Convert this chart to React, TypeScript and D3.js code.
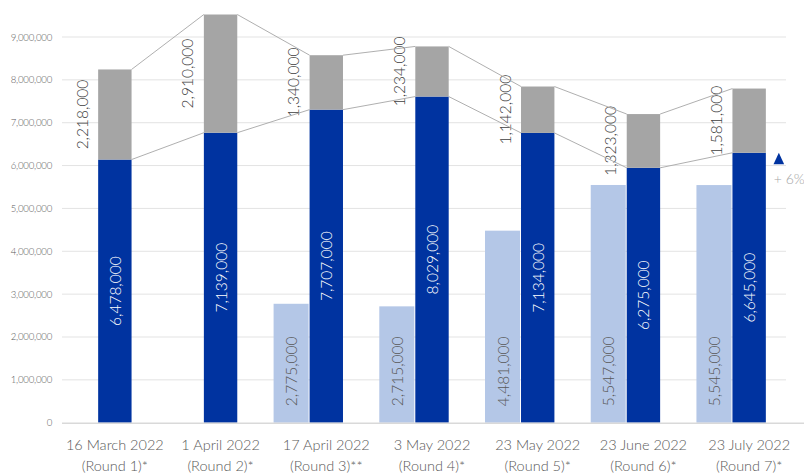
import React from "react";
import * as d3 from "d3";

const dates = ["16 March 2022", "1 April 2022", "17 April 2022", "3 May 2022", "23 May 2022", "23 June 2022", "23 July 2022"];
const rounds = ["(Round 1)*", "(Round 2)*", "(Round 3)**", "(Round 4)*", "(Round 5)*", "(Round 6)*", "(Round 7)*"];
const lightValues: (number | null)[] = [null, null, 2775000, 2715000, 4481000, 5547000, 5545000];
const darkValues = [6478000, 7139000, 7707000, 8029000, 7134000, 6275000, 6645000];
const grayValues = [2218000, 2910000, 1340000, 1234000, 1142000, 1323000, 1581000];
const yTicks = [0, 1000000, 2000000, 3000000, 4000000, 5000000, 6000000, 7000000, 8000000, 9000000];
const changeLabel = "+ 6%";

const W = 804;
const H = 473;
const FONT = "Lato, 'Open Sans', sans-serif";

export default function App() {
  const idx = dates.map((_, i) => i);
  const x = d3.scaleBand<number>().domain(idx).range([62, 802]).padding(0);
  const y = d3.scaleLinear().domain([0, 9000000]).range([422.7, 37]);
  const y2 = d3.scaleLinear().domain([0, 9500000]).range([422.7, 36.8]);
  const darkW = 33.4;
  const lightW = 35;
  const fmt = d3.format(",");
  const cx = (i: number) => (x(i) as number) + x.bandwidth() / 2;
  const darkL = (i: number) => cx(i) - darkW / 2;
  const darkR = (i: number) => cx(i) + darkW / 2;

  const darkTopLine: [number, number][] = [];
  const grayTopLine: [number, number][] = [];
  idx.forEach((i) => {
    const td = y2(darkValues[i]);
    const tg = y2(darkValues[i] + grayValues[i]);
    darkTopLine.push([darkL(i), td], [darkR(i), td]);
    grayTopLine.push([darkL(i), tg], [darkR(i), tg]);
  });
  const line = d3.line();
  const segs = (pts: [number, number][]) => {
    const out: string[] = [];
    for (let k = 1; k + 1 < pts.length; k += 2) out.push(line([pts[k], pts[k + 1]]) as string);
    return out;
  };

  const lastI = idx.length - 1;
  const triX = darkR(lastI) + 13;
  const triY = y2(darkValues[lastI]);

  return (
    <svg width={W} height={H} style={{ position: "absolute", left: 0, top: 0, background: "#fff" }} fontFamily={FONT} fontWeight={300}>
      {/* gridlines */}
      {yTicks.map((t) => (
        <g key={t}>
          {t > 0 && <line x1={62} x2={786} y1={y(t)} y2={y(t)} stroke="#e3e3e3" strokeWidth={1} />}
          <text x={52} y={y(t)} textAnchor="end" dominantBaseline="central" fontSize={9.6} fill="#595959" letterSpacing={-0.2}>
            {fmt(t)}
          </text>
        </g>
      ))}
      {/* light bars */}
      {idx.map((i) =>
        lightValues[i] == null ? null : (
          <g key={"l" + i}>
            <rect x={darkL(i) - 1 - lightW} y={y(lightValues[i] as number)} width={lightW} height={y(0) - y(lightValues[i] as number)} fill="#b4c7e7" />
            <text
              transform={`translate(${darkL(i) - 1 - lightW / 2},${y(0) - 16.5}) rotate(-90)`}
              textAnchor="start"
              dominantBaseline="central"
              fontSize={15.5}
              fill="#595959"
            >
              {fmt(lightValues[i] as number)}
            </text>
          </g>
        )
      )}
      {/* dark + gray stacked bars */}
      {idx.map((i) => {
        const td = y2(darkValues[i]);
        const tg = y2(darkValues[i] + grayValues[i]);
        return (
          <g key={"d" + i}>
            <rect x={darkL(i)} y={td} width={darkW} height={y2(0) - td} fill="#0033a0" />
            <rect x={darkL(i)} y={tg} width={darkW} height={td - tg} fill="#a5a5a5" />
            <text
              transform={`translate(${cx(i)},${(td + y2(0)) / 2}) rotate(-90)`}
              textAnchor="middle"
              dominantBaseline="central"
              fontSize={15.5}
              fill="#ffffff"
            >
              {fmt(darkValues[i])}
            </text>
            <text
              transform={`translate(${darkL(i) - 16.5},${(td + tg) / 2}) rotate(-90)`}
              textAnchor="middle"
              dominantBaseline="central"
              fontSize={15.5}
              fill="#404040"
            >
              {fmt(grayValues[i])}
            </text>
          </g>
        );
      })}
      {/* series lines */}
      {segs(darkTopLine).map((d, k) => (
        <path key={"dl" + k} d={d} stroke="#a6a6a6" strokeWidth={0.9} fill="none" />
      ))}
      {segs(grayTopLine).map((d, k) => (
        <path key={"gl" + k} d={d} stroke="#a6a6a6" strokeWidth={0.9} fill="none" />
      ))}
      {/* x axis */}
      <line x1={62} x2={804} y1={423.3} y2={423.3} stroke="#d9d9d9" strokeWidth={1.6} />
      {idx.map((i) => (
        <text key={"x" + i} x={cx(i)} textAnchor="middle" fontSize={14.5} fill="#595959">
          <tspan x={cx(i)} y={450}>{dates[i]}</tspan>
          <tspan x={cx(i)} y={470.5}>{rounds[i]}</tspan>
        </text>
      ))}
      {/* change marker */}
      <path d={`M${triX - 5.3},${triY + 11.5}L${triX + 5.3},${triY + 11.5}L${triX},${triY}Z`} fill="#0033a0" />
      <text x={triX - 5} y={triY + 31} fontSize={14} fill="#a6a6a6">
        {changeLabel}
      </text>
    </svg>
  );
}
